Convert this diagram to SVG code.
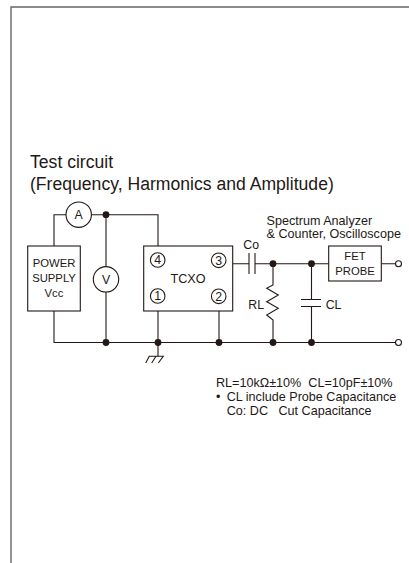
<svg xmlns="http://www.w3.org/2000/svg" width="409" height="563" viewBox="0 0 409 563">
<style>
text{font-family:"Liberation Sans",Arial,sans-serif;fill:#231815}
.w{fill:none;stroke:#231815;stroke-width:1.1}
.b{fill:#fff;stroke:#231815;stroke-width:1.1}
.d{fill:#231815}
.c{text-anchor:middle}
.s{font-size:11.3px}
.n{font-size:12.6px}
.m{font-size:12.300px}
.t{font-size:17.600px}
</style>
<rect width="409" height="563" fill="#fff"/>
<path d="M11 563V7H409" fill="none" stroke="#666" stroke-width="1.4"/>
<text class="t" x="30" y="168">Test circuit</text>
<text class="t" x="30" y="190">(Frequency, Harmonics and Amplitude)</text>
<g id="connectors">
<path class="w" d="M54 246V214.7H158V246M106 214.7V342.5M54 311V342.5H395.500M158 311V356.5M219 311V342.5M233 263.7H249M255 263.7H329M381 263.7H395.500M273 263.7V285L266.700 288.300L278.300 295L266.700 301.700L278.300 308.300L266.700 315L273 320V342.5M311.500 263.700V299.500M311.500 306.500V342.500"/>
<path class="w" d="M249 253V274M255 253V274M301 299.500H321M301 306.500H321"/>
<path class="w" d="M145.700 363L149.300 356.300H163.300L158.300 363M151.700 363L156 356.300"/>
<circle class="d" cx="106" cy="214.700" r="3.400"/><circle class="d" cx="106" cy="342.500" r="3.400"/><circle class="d" cx="158" cy="342.500" r="3.400"/><circle class="d" cx="219" cy="342.500" r="3.400"/><circle class="d" cx="273" cy="342.500" r="3.400"/><circle class="d" cx="311.500" cy="342.500" r="3.400"/><circle class="d" cx="273" cy="263.700" r="3.400"/><circle class="d" cx="311.500" cy="263.700" r="3.400"/>
<circle class="b" cx="398.500" cy="263.700" r="3"/><circle class="b" cx="398.500" cy="342.500" r="3"/>
</g>
<g id="ammeter"><circle class="b" cx="78.700" cy="214.700" r="12.700"/><text class="c m" x="78.700" y="219">A</text></g>
<g id="voltmeter"><circle class="b" cx="106" cy="279.300" r="12.700"/><text class="c m" x="106" y="284">V</text></g>
<g id="power-supply"><rect class="b" x="27.700" y="246" width="52.600" height="65"/><text class="c s" x="54" y="267">POWER</text><text class="c s" x="54" y="282">SUPPLY</text><text class="c s" x="54" y="297">Vcc</text></g>
<g id="tcxo"><rect class="b" x="143.700" y="246" width="89" height="65"/><text class="c n" x="188" y="283.300">TCXO</text>
<circle class="b" cx="157.700" cy="260" r="7.300"/><text class="c m" x="157.700" y="264.400">4</text>
<circle class="b" cx="157.700" cy="296" r="7.300"/><text class="c m" x="157.700" y="300.400">1</text>
<circle class="b" cx="218.700" cy="260.300" r="7.300"/><text class="c m" x="218.700" y="264.700">3</text>
<circle class="b" cx="218.700" cy="296.300" r="7.300"/><text class="c m" x="218.700" y="300.700">2</text></g>
<g id="fet-probe"><rect class="b" x="328.700" y="246" width="52.600" height="35"/><text class="c s" x="355" y="260">FET</text><text class="c s" x="355" y="275">PROBE</text></g>
<text class="m" x="243.300" y="249">Co</text>
<text class="m" x="248.300" y="309">RL</text>
<text class="m" x="325.700" y="309">CL</text>
<text class="n" x="266.500" y="225">Spectrum Analyzer</text>
<text class="n" x="266.500" y="237.800">&amp; Counter, Oscilloscope</text>
<text class="n" x="216" y="386.700" xml:space="preserve">RL=10kΩ±10%  CL=10pF±10%</text>
<text class="n" x="216" y="401">•</text>
<text class="n" x="226.700" y="401">CL include Probe Capacitance</text>
<text class="n" x="226.700" y="415" xml:space="preserve">Co: DC   Cut Capacitance</text>
</svg>
